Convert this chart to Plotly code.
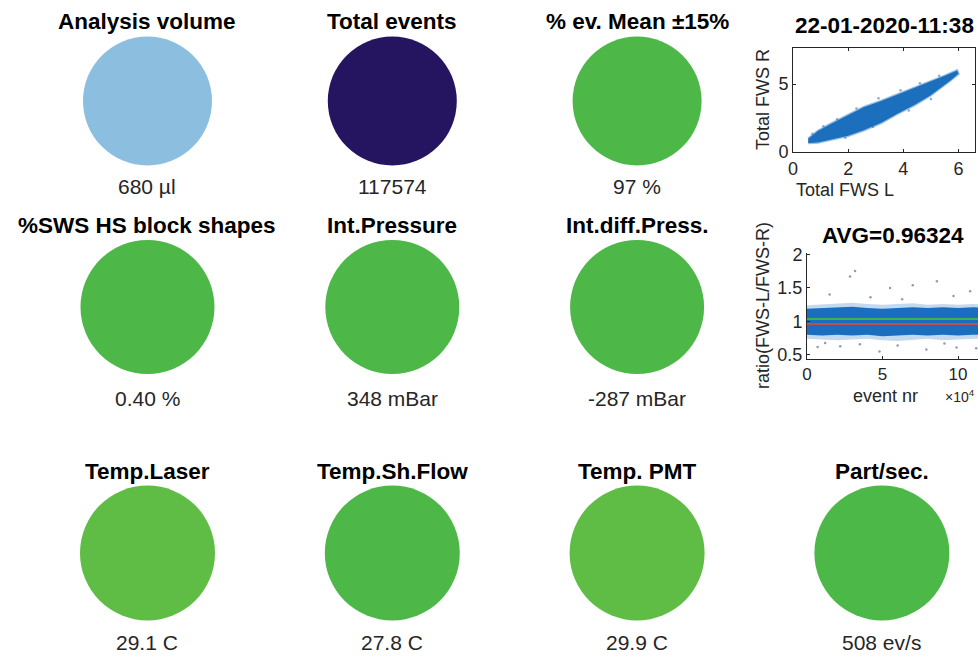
import plotly.graph_objects as go

# ---- status gauges -------------------------------------------------------
gauge_titles = ["Analysis volume", "Total events", "% ev. Mean \u00b115%",
                "%SWS HS block shapes", "Int.Pressure", "Int.diff.Press.",
                "Temp.Laser", "Temp.Sh.Flow", "Temp. PMT", "Part/sec."]
gauge_values = ["680 \u00b5l", "117574", "97 %",
                "0.40 %", "348 mBar", "-287 mBar",
                "29.1 C", "27.8 C", "29.9 C", "508 ev/s"]
gauge_colors = ["#8cbfdf", "#25145f", "#4db848",
                "#4db848", "#4db848", "#4db848",
                "#5fbd45", "#4db848", "#5fbd45", "#4cb848"]
gauge_rows = [0, 0, 0, 1, 1, 1, 2, 2, 2, 2]
gauge_cols = [0, 1, 2, 0, 1, 2, 0, 1, 2, 3]

# ---- FWS-L vs FWS-R scatter cloud (envelope of the dense point cloud) ----
fws_title = "22-01-2020-11:38"
fws_upper_x = [0.55, 0.9, 1.35, 2.0, 2.56, 3.2, 3.77, 4.4, 4.98, 5.5, 5.95]
fws_upper_y = [0.98, 1.55, 2.05, 2.75, 3.3, 3.75, 4.2, 4.68, 5.15, 5.6, 6.0]
fws_lower_x = [6.0, 5.7, 5.4, 4.98, 4.4, 3.77, 3.2, 2.56, 2.0, 1.35, 0.9, 0.55]
fws_lower_y = [5.75, 5.25, 4.8, 4.15, 3.45, 2.8, 2.15, 1.6, 1.2, 0.88, 0.7, 0.66]
fws_out_x = [0.7, 1.1, 1.6, 2.3, 3.1, 3.9, 4.6, 5.3, 1.9, 2.9, 4.2, 5.0]
fws_out_y = [1.35, 1.9, 2.4, 3.2, 3.95, 4.55, 5.05, 5.6, 1.05, 1.85, 3.05, 3.9]

# ---- ratio FWS-L / FWS-R per event ---------------------------------------
ratio_avg = 0.96324
ratio_ref = 1.035
ratio_band_x = [0, 10000, 20000, 30000, 40000, 50000, 60000,
                70000, 80000, 90000, 100000, 110000, 117574]
ratio_core_hi = [1.19, 1.2, 1.21, 1.22, 1.2, 1.19, 1.2, 1.21, 1.2, 1.21, 1.2, 1.21, 1.2]
ratio_core_lo = [0.8, 0.79, 0.8, 0.79, 0.8, 0.78, 0.79, 0.8, 0.79, 0.8, 0.79, 0.8, 0.8]
ratio_fringe_hi = [1.24, 1.25, 1.26, 1.28, 1.26, 1.25, 1.26, 1.27, 1.25, 1.26, 1.25, 1.26, 1.25]
ratio_fringe_lo = [0.74, 0.73, 0.72, 0.73, 0.74, 0.72, 0.71, 0.73, 0.74, 0.72, 0.73, 0.74, 0.74]
ratio_out_x = [28500, 31800, 55000, 70000, 86000, 15000, 97000, 108000, 42000, 63000,
               7000, 22000, 48000, 79000, 99000, 35000, 60000, 91000, 112000, 12000]
ratio_out_y = [1.67, 1.75, 1.5, 1.54, 1.6, 1.4, 1.38, 1.45, 1.36, 1.33,
               0.62, 0.63, 0.55, 0.58, 0.61, 0.66, 0.64, 0.67, 0.6, 0.68]

W, H = 978, 656
fig = go.Figure()

# gauges: one marker per tile, rows on their own y axes
row_axes = ["y3", "y4", "y5"]
row_sizes = [129, 134, 135]
for r, ya in enumerate(row_axes):
    idx = [i for i, rr in enumerate(gauge_rows) if rr == r]
    fig.add_trace(go.Scatter(
        x=[gauge_cols[i] for i in idx], y=[0] * len(idx),
        xaxis="x3", yaxis=ya, mode="markers", hoverinfo="skip", cliponaxis=False,
        marker=dict(size=row_sizes[r], color=[gauge_colors[i] for i in idx],
                    line=dict(width=0)),
        showlegend=False))

title_shift = [79, 82, 82]
value_shift = [-86, -91, -89]
annotations = []
for i, t in enumerate(gauge_titles):
    r = gauge_rows[i]
    annotations.append(dict(x=gauge_cols[i], y=0, xref="x3", yref=row_axes[r],
                            xanchor="center", yanchor="middle",
                            text=f"<b>{t}</b>", showarrow=False, yshift=title_shift[r],
                            font=dict(size=22.5, color="#000000")))
    annotations.append(dict(x=gauge_cols[i], y=0, xref="x3", yref=row_axes[r],
                            xanchor="center", yanchor="middle",
                            text=gauge_values[i], showarrow=False, yshift=value_shift[r],
                            font=dict(size=21, color="#262626")))

# FWS scatter cloud
fig.add_trace(go.Scatter(
    x=fws_upper_x + fws_lower_x, y=fws_upper_y + fws_lower_y,
    xaxis="x", yaxis="y", mode="lines", fill="toself",
    fillcolor="#1b6fbd", line=dict(color="rgba(27,111,189,0.45)", width=2.5),
    hoverinfo="skip", showlegend=False))
fig.add_trace(go.Scatter(
    x=fws_out_x, y=fws_out_y, xaxis="x", yaxis="y", mode="markers",
    marker=dict(size=2.5, color="rgba(27,111,189,0.55)"),
    hoverinfo="skip", showlegend=False))

# ratio cloud: light fringe then dense core
fig.add_trace(go.Scatter(
    x=ratio_band_x + ratio_band_x[::-1], y=ratio_fringe_hi + ratio_fringe_lo[::-1],
    xaxis="x2", yaxis="y2", mode="lines", fill="toself",
    fillcolor="rgba(40,120,200,0.28)", line=dict(width=0),
    hoverinfo="skip", showlegend=False))
fig.add_trace(go.Scatter(
    x=ratio_band_x + ratio_band_x[::-1], y=ratio_core_hi + ratio_core_lo[::-1],
    xaxis="x2", yaxis="y2", mode="lines", fill="toself",
    fillcolor="#1b6dbf", line=dict(width=0),
    hoverinfo="skip", showlegend=False))
fig.add_trace(go.Scatter(
    x=ratio_out_x, y=ratio_out_y, xaxis="x2", yaxis="y2", mode="markers",
    marker=dict(size=2.5, color="rgba(70,90,120,0.6)"),
    hoverinfo="skip", showlegend=False))
fig.add_trace(go.Scatter(
    x=[ratio_band_x[0], ratio_band_x[-1]], y=[ratio_ref, ratio_ref],
    xaxis="x2", yaxis="y2", mode="lines", line=dict(color="#3cb44b", width=2),
    hoverinfo="skip", showlegend=False))
fig.add_trace(go.Scatter(
    x=[ratio_band_x[0], ratio_band_x[-1]], y=[ratio_avg, ratio_avg],
    xaxis="x2", yaxis="y2", mode="lines", line=dict(color="#c0504d", width=2),
    hoverinfo="skip", showlegend=False))

# axis geometry (pixel boxes converted to paper fractions)
def px_x(a, b):
    return [a / W, b / W]

def px_y(top, bottom):
    return [1 - bottom / H, 1 - top / H]

tick_font = dict(size=18, color="#262626", family="Liberation Sans, Arial")
common = dict(showgrid=False, zeroline=False, showline=True, linecolor="#262626",
              linewidth=1, ticks="inside", ticklen=3, tickcolor="#262626",
              tickfont=tick_font, automargin=False)

fws_x_dom = px_x(793, 975)
fws_y_dom = px_y(48, 152)
rat_x_dom = px_x(807, 978)
rat_y_dom = px_y(253, 359)

layout_axes = dict(
    xaxis=dict(domain=fws_x_dom, range=[0, 6.6], tickvals=[0, 2, 4, 6],
               anchor="y", mirror="ticks", **common),
    yaxis=dict(domain=fws_y_dom, range=[0, 7.65], tickvals=[0, 5],
               anchor="x", mirror="ticks", **common),
    xaxis2=dict(domain=rat_x_dom, range=[0, 113200], tickvals=[0, 50000, 100000],
                ticktext=["0", "5", "10"], anchor="y2", **common),
    yaxis2=dict(domain=rat_y_dom, range=[0.44, 2.02], tickvals=[0.5, 1, 1.5, 2],
                ticktext=["0.5", "1", "1.5", "2"], anchor="x2", **common),
    xaxis3=dict(domain=[0, 1], range=[-0.6025, 3.3926], visible=False, anchor="y3"),
)
layout_axes["xaxis2"]["tickfont"] = dict(size=17, color="#262626",
                                         family="Liberation Sans, Arial")
row_centers = [101, 307, 553]
for r, ya in enumerate(row_axes):
    c = 1 - row_centers[r] / H
    key = "yaxis" + ya[1:]
    layout_axes[key] = dict(domain=[c - 0.05, c + 0.05], range=[-1, 1],
                            visible=False, anchor="x3")

# titles and axis labels of the two small plots
lab_font = dict(size=18, color="#262626", family="Liberation Sans, Arial")
ctr = dict(xref="paper", yref="paper", xanchor="center", yanchor="middle",
           showarrow=False)
annotations += [
    dict(x=sum(fws_x_dom) / 2, y=fws_y_dom[1], text=f"<b>{fws_title}</b>", yshift=22,
         font=dict(size=22.5, color="#000000"), **ctr),
    dict(x=845 / W, y=fws_y_dom[0], text="Total FWS L", yshift=-38, font=lab_font, **ctr),
    dict(x=763 / W, y=sum(fws_y_dom) / 2, text="Total FWS R", textangle=-90,
         font=lab_font, **ctr),
    dict(x=sum(rat_x_dom) / 2, y=rat_y_dom[1], text=f"<b>AVG={ratio_avg:.5f}</b>",
         yshift=18, font=dict(size=22.5, color="#000000"), **ctr),
    dict(x=885 / W, y=rat_y_dom[0], text="event nr", yshift=-37, font=lab_font, **ctr),
    dict(x=977 / W, y=rat_y_dom[0], text="\u00d710<sup>4</sup>", yshift=-37,
         xref="paper", yref="paper", xanchor="right", yanchor="middle", showarrow=False,
         font=dict(size=14, color="#262626", family="Liberation Sans, Arial")),
    dict(x=763 / W, y=sum(rat_y_dom) / 2, text="ratio(FWS-L/FWS-R)", textangle=-90,
         font=lab_font, **ctr),
]

fig.update_layout(
    width=W, height=H, autosize=False,
    margin=dict(l=0, r=0, t=0, b=0, pad=0, autoexpand=False),
    paper_bgcolor="white", plot_bgcolor="rgba(0,0,0,0)",
    font=dict(family="Liberation Sans, Arial, sans-serif", color="#262626"),
    showlegend=False, annotations=annotations, **layout_axes)

fig.write_html("out.html")
